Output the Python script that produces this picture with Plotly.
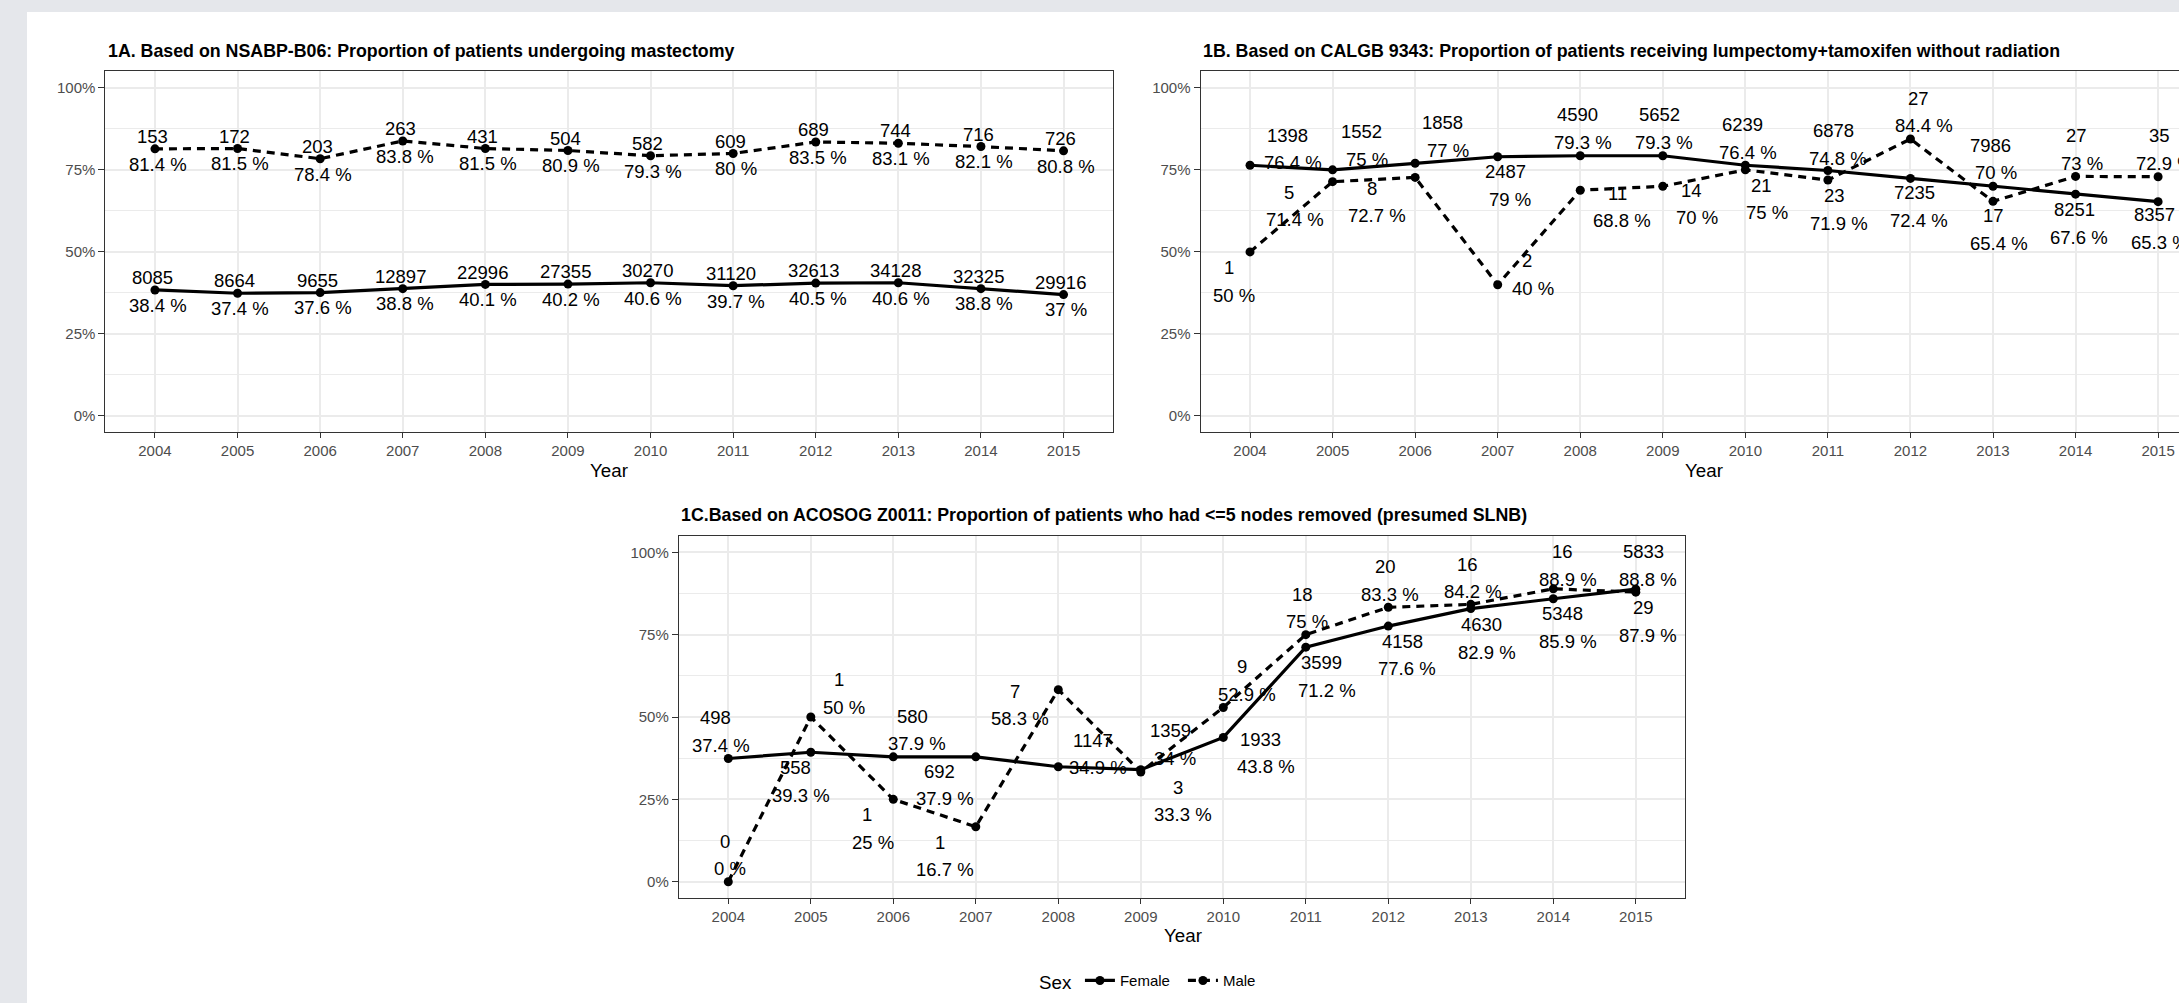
import plotly.graph_objects as go

W, H = 2179, 1003
FONT = "Liberation Sans, Arial, sans-serif"

# ---------------- data ----------------
years = list(range(2004, 2016))

a_fem_n = [8085, 8664, 9655, 12897, 22996, 27355, 30270, 31120, 32613, 34128, 32325, 29916]
a_fem_pct = [38.4, 37.4, 37.6, 38.8, 40.1, 40.2, 40.6, 39.7, 40.5, 40.6, 38.8, 37.0]
a_male_n = [153, 172, 203, 263, 431, 504, 582, 609, 689, 744, 716, 726]
a_male_pct = [81.4, 81.5, 78.4, 83.8, 81.5, 80.9, 79.3, 80.0, 83.5, 83.1, 82.1, 80.8]

b_fem_n = [1398, 1552, 1858, 2487, 4590, 5652, 6239, 6878, 7235, 7986, 8251, 8357]
b_fem_pct = [76.4, 75.0, 77.0, 79.0, 79.3, 79.3, 76.4, 74.8, 72.4, 70.0, 67.6, 65.3]
b_male_n = [1, 5, 8, 2, 11, 14, 21, 23, 27, 17, 27, 35]
b_male_pct = [50.0, 71.4, 72.7, 40.0, 68.8, 70.0, 75.0, 71.9, 84.4, 65.4, 73.0, 72.9]

c_fem_n = [498, 558, 580, 692, 1147, 1359, 1933, 3599, 4158, 4630, 5348, 5833]
c_fem_pct = [37.4, 39.3, 37.9, 37.9, 34.9, 34.0, 43.8, 71.2, 77.6, 82.9, 85.9, 88.8]
c_male_n = [0, 1, 1, 1, 7, 3, 9, 18, 20, 16, 16, 29]
c_male_pct = [0.0, 50.0, 25.0, 16.7, 58.3, 33.3, 52.9, 75.0, 83.3, 84.2, 88.9, 87.9]

y_tickvals = [0, 0.25, 0.5, 0.75, 1.0]
y_ticktext = ["0%", "25%", "50%", "75%", "100%"]
y_minor = [0.125, 0.375, 0.625, 0.875]

titles = [
    "1A. Based on NSABP-B06: Proportion of patients undergoing mastectomy",
    "1B. Based on CALGB 9343: Proportion of patients receiving lumpectomy+tamoxifen without radiation",
    "1C.Based on ACOSOG Z0011: Proportion of patients who had <=5 nodes removed (presumed SLNB)",
]

# ---------------- label placement (pixel offsets of label block from point) ----------------
a_fem_dx = [0] * 12
a_fem_dy = [1.5] * 12
a_male_dx = [0] * 12
a_male_dy = [1.5] * 12

b_fem_dx = [39.9, 32, 29.9, 10.2, 0.3, -1, -0.3, 7.9, 6.4, 0.5, 1.2, -1.2]
b_fem_dy = [-16.3, -24.3, -26.6, 28.9, -27, -27.3, -26.9, -26.3, 28.3, -27.1, 29.2, 26.9]
b_male_dx = [-18.2, -40.5, -40.9, 32.3, 39.5, 31.4, 18.9, 8.8, 11.1, 3.5, 4, 4.2]
b_male_dy = [29.5, 24.2, 24.8, -10, 16.9, 17.9, 29.3, 29.5, -27.2, 28.2, -27.2, -27.1]

c_fem_dx = [-10.3, -12.3, 21.5, -33.6, 37.5, 31.8, 40.2, 18.4, 16.4, 13.7, 11.9, 10]
c_fem_dy = [-27.3, 29.1, -26.9, 28.1, -12.9, -25.5, 15.4, 29.5, 29.1, 29.6, 28.8, -23.4]
c_male_dx = [-1.1, 30.9, -23.3, -33.7, -40.8, 39.8, 20.9, -1.1, -0.5, -0.3, 12.2, 10]
c_male_dy = [-26.7, -23.8, 29, 29.2, 15.5, 28.8, -27.1, -26.8, -26.5, -26.5, -23.1, 29.5]


def fx(px):
    return px / W


def fy(py):
    return 1 - py / H


# panel geometry (pixels)
panels = [
    dict(x0=105.4, x1=1113.1, y0=71.4, y1=432.4, xr=[2003.4, 2015.6], mirror=True),
    dict(x0=1200.5, x1=2179, y0=71.4, y1=432.4, xr=[2003.4, 2015.253], mirror=False),
    dict(x0=678.8, x1=1685.3, y0=535.8, y1=898.2, xr=[2003.4, 2015.6], mirror=True),
]

series = [
    [(a_fem_n, a_fem_pct, a_fem_dx, a_fem_dy), (a_male_n, a_male_pct, a_male_dx, a_male_dy)],
    [(b_fem_n, b_fem_pct, b_fem_dx, b_fem_dy), (b_male_n, b_male_pct, b_male_dx, b_male_dy)],
    [(c_fem_n, c_fem_pct, c_fem_dx, c_fem_dy), (c_male_n, c_male_pct, c_male_dx, c_male_dy)],
]

fig = go.Figure()
annotations = []
names = ["Female", "Male"]
dashes = ["solid", "8px,6px"]

for k, (p, ser) in enumerate(zip(panels, series)):
    sfx = "" if k == 0 else str(k + 1)
    xa, ya = "x" + sfx, "y" + sfx
    for j, (n, pct, dx, dy) in enumerate(ser):
        yv = [v / 100 for v in pct]
        fig.add_trace(go.Scatter(
            x=years, y=yv, xaxis=xa, yaxis=ya, mode="lines+markers",
            name=names[j], legendgroup=names[j], showlegend=(k == 0),
            line=dict(color="black", width=3.2, dash=dashes[j]),
            marker=dict(color="black", size=9),
            hoverinfo="skip",
        ))
        for i in range(len(years)):
            annotations.append(dict(
                x=years[i], y=yv[i], xref=xa, yref=ya, text=str(n[i]),
                showarrow=False, xanchor="center", yanchor="middle",
                xshift=dx[i] - 2.6, yshift=-(dy[i] - 13.8),
                font=dict(family=FONT, size=18.5, color="black"),
            ))
            annotations.append(dict(
                x=years[i], y=yv[i], xref=xa, yref=ya, text="{:g} %".format(pct[i]),
                showarrow=False, xanchor="center", yanchor="middle",
                xshift=dx[i] + 2.6, yshift=-(dy[i] + 13.8),
                font=dict(family=FONT, size=18.5, color="black"),
            ))

    common = dict(
        showline=True, linecolor="#333333", linewidth=1,
        ticks="outside", tickcolor="#333333", tickwidth=1,
        tickfont=dict(family=FONT, size=15, color="#4d4d4d"),
        showgrid=True, gridcolor="#ebebeb", gridwidth=1.6, zeroline=False,
    )
    fig.update_layout(**{
        ("xaxis" + sfx): dict(
            domain=[fx(p["x0"]), fx(p["x1"])], range=p["xr"], anchor=ya,
            tickvals=years, ticklen=5, mirror=True, **common),
        ("yaxis" + sfx): dict(
            domain=[fy(p["y1"]), fy(p["y0"])], range=[-0.05, 1.05], anchor=xa,
            tickvals=y_tickvals, ticktext=y_ticktext, ticklen=6, mirror=p["mirror"],
            minor=dict(tickvals=y_minor, showgrid=True, gridcolor="#ebebeb",
                       gridwidth=0.9, ticks=""),
            **common),
    })
    # panel title
    annotations.append(dict(
        x=fx(p["x0"] + 0.5), y=fy(p["y0"] - 20.5), xref="paper", yref="paper",
        text="<b>" + titles[k].replace("<", "&lt;") + "</b>", showarrow=False,
        xanchor="left", yanchor="middle",
        font=dict(family=FONT, size=17.8, color="black"),
    ))

# axis titles
for (cx, cy) in [(609.3, 470), (1704, 470), (1182.5, 935)]:
    annotations.append(dict(
        x=fx(cx), y=fy(cy), xref="paper", yref="paper", text="Year",
        showarrow=False, xanchor="center", yanchor="middle",
        font=dict(family=FONT, size=18.75, color="black"),
    ))

fig.update_layout(
    width=W, height=H, autosize=False,
    margin=dict(l=0, r=0, t=0, b=0),
    paper_bgcolor="#e5e7eb", plot_bgcolor="white",
    annotations=annotations,
    shapes=[dict(type="rect", xref="paper", yref="paper", x0=fx(27), x1=1, y0=0, y1=fy(12),
                 fillcolor="white", line=dict(width=0), layer="below")],
    showlegend=True,
    legend=dict(
        orientation="h", x=fx(1037), xanchor="left", y=fy(981.7), yanchor="middle",
        title=dict(text="Sex", font=dict(family=FONT, size=18.75, color="black")),
        font=dict(family=FONT, size=15, color="black"),
        bgcolor="rgba(0,0,0,0)", traceorder="normal",
        entrywidth=58, entrywidthmode="pixels",
    ),
    font=dict(family=FONT),
)

fig.write_html(
    "out.html",
    config={"displayModeBar": False, "responsive": False},
    post_script="document.body.style.margin='0px';document.body.style.overflow='hidden';",
)
